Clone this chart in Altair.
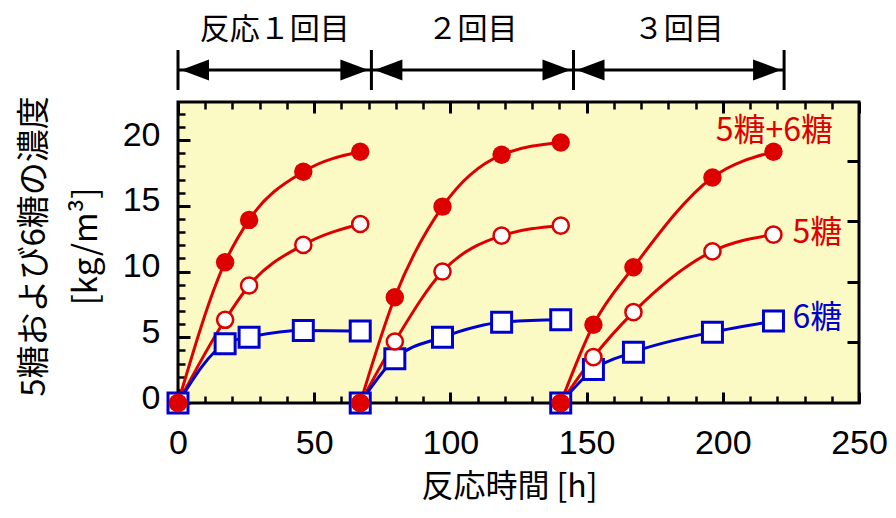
import altair as alt
import pandas as pd

# ---------------- data ----------------
cycle_times = [
    [0.0, 17.3, 26.1, 46.0, 66.9],
    [66.9, 79.6, 97.1, 118.8, 140.5],
    [140.5, 152.5, 167.2, 196.2, 218.6],
]
sugar_total = [
    [0, 10.71, 13.93, 17.59, 19.11],
    [0, 8.05, 14.94, 18.88, 19.82],
    [0, 5.95, 10.33, 17.16, 19.11],
]
sugar_c5 = [
    [0, 6.33, 8.94, 12.03, 13.62],
    [0, 4.68, 10.00, 12.73, 13.49],
    [0, 3.49, 6.91, 11.54, 12.81],
]
sugar_c6 = [
    [0, 4.51, 5.01, 5.52, 5.47],
    [0, 3.37, 5.01, 6.15, 6.33],
    [0, 2.54, 3.87, 5.39, 6.23],
]
series_names = ["5糖+6糖", "5糖", "6糖"]
series_colors = ["#DD0000", "#DD0000", "#0000CC"]
cycle_labels = ["反応１回目", "２回目", "３回目"]
cycle_bounds = [0.0, 71.0, 145.2, 222.5]
x_ticks_major = [0, 50, 100, 150, 200, 250]
x_ticks_minor = list(range(0, 251, 10))
y_ticks_major = [0, 5, 10, 15, 20]
y_ticks_minor = list(range(0, 23))
y_right_ticks = [5, 10, 15, 20]

RED = "#DD0000"
BLUE = "#0000CC"
JP = "Noto Sans CJK JP"
NUM = "Liberation Sans"
X_DOMAIN = [0, 250]
Y_DOMAIN = [0, 22.9]

rows = []
for name, vals in zip(series_names, [sugar_total, sugar_c5, sugar_c6]):
    for ci in range(3):
        for j, (t, c) in enumerate(zip(cycle_times[ci], vals[ci])):
            rows.append({"t": t, "c": c, "series": name, "cycle": ci,
                         "last": (ci == 2 and j == len(vals[ci]) - 1)})
df = pd.DataFrame(rows)

seg = pd.DataFrame({
    "start": cycle_bounds[:-1],
    "end": cycle_bounds[1:],
    "mid": [(a + b) / 2 for a, b in zip(cycle_bounds[:-1], cycle_bounds[1:])],
    "label": cycle_labels,
})
bounds = pd.DataFrame({"b": cycle_bounds})


def X(axis=None):
    return alt.X("t:Q", scale=alt.Scale(domain=X_DOMAIN, nice=False, zero=False), axis=axis)


def Y(axis=None, domain=Y_DOMAIN):
    return alt.Y("c:Q", scale=alt.Scale(domain=domain, nice=False, zero=False), axis=axis)


def tick_axis(orient, values, size, width):
    return alt.Axis(orient=orient, values=values, labels=False, domain=False, grid=False,
                    ticks=True, tickSize=size, tickWidth=width, tickColor="black",
                    offset=-size, title=None)


base = alt.Chart(df)

x_label_axis = alt.Axis(orient="bottom", values=x_ticks_major, ticks=False, tickSize=0,
                        domain=False, grid=False, labelFont=NUM, labelFontSize=34,
                        labelColor="black", labelPadding=23, labelFlush=False,
                        labelOverlap=False,
                        title="反応時間 [h]", titleFont=JP, titleFontSize=32,
                        titleFontWeight="normal", titleColor="black",
                        titleX=331, titleY=68, titleBaseline="top", titleAlign="center")
y_label_axis = alt.Axis(orient="left", values=y_ticks_major, ticks=False, tickSize=0,
                        domain=False, grid=False, labelFont=NUM, labelFontSize=34,
                        labelColor="black", labelPadding=18, labelOffset=-5,
                        labelOverlap=False,
                        title=["5糖および6糖の濃度", "[kg/m³]"], titleFont=JP,
                        titleFontSize=33, titleFontWeight="normal", titleColor="black",
                        titleLineHeight=52, titleX=-127, titleY=144,
                        titleBaseline="bottom", titleAlign="center")

lines = base.mark_line(interpolate="monotone", strokeWidth=3).encode(
    x=X(x_label_axis), y=Y(y_label_axis),
    color=alt.Color("series:N", scale=alt.Scale(domain=series_names, range=series_colors),
                    legend=None),
    detail="cycle:N",
)

ax1 = base.mark_point(opacity=0).encode(
    x=X(tick_axis("bottom", x_ticks_major, 11, 3)), y=Y(tick_axis("left", y_ticks_major, 12, 3)))
ax2 = base.mark_point(opacity=0).encode(
    x=X(tick_axis("bottom", x_ticks_minor, 7, 2.5)), y=Y(tick_axis("left", y_ticks_minor, 7, 2.5)))
ax3 = base.mark_point(opacity=0).encode(
    x=X(tick_axis("top", x_ticks_major, 11, 3)),
    y=Y(tick_axis("right", y_right_ticks, 12, 3), domain=[0, 24.85]))
ax4 = base.mark_point(opacity=0).encode(
    x=X(tick_axis("top", x_ticks_minor, 7, 2.5)), y=Y())

squares = base.transform_filter(alt.datum.series == "6糖").mark_square(
    size=400, fill="white", stroke=BLUE, strokeWidth=3, opacity=1).encode(x=X(), y=Y())
open_c = base.transform_filter(alt.datum.series == "5糖").mark_circle(
    size=260, fill="white", stroke=RED, strokeWidth=2.5, opacity=1).encode(x=X(), y=Y())
filled_c = base.transform_filter(alt.datum.series == "5糖+6糖").mark_circle(
    size=340, color=RED, opacity=1).encode(x=X(), y=Y())

label_specs = [("5糖+6糖", RED, "center", 1, -21), ("5糖", RED, "left", 19, -2),
               ("6糖", BLUE, "left", 19, -3)]
series_labels = []
for name, col, align, dx, dy in label_specs:
    series_labels.append(
        base.transform_filter((alt.datum.series == name) & alt.datum.last)
        .mark_text(font=JP, fontSize=32, color=col, align=align, baseline="middle", dx=dx, dy=dy)
        .encode(x=X(), y=Y(), text="series:N")
    )

bars = alt.Chart(bounds).mark_rule(strokeWidth=3, color="black").encode(
    x=alt.X("b:Q", scale=alt.Scale(domain=X_DOMAIN, nice=False, zero=False), axis=None),
    y=alt.value(-52), y2=alt.value(-12))
shafts = alt.Chart(seg).mark_rule(strokeWidth=3, color="black").encode(
    x=alt.X("start:Q", scale=alt.Scale(domain=X_DOMAIN, nice=False, zero=False), axis=None),
    x2="end:Q", y=alt.value(-32))
head_l = alt.Chart(seg).mark_point(shape="M1,-0.75L-1,0L1,0.75Z", size=784, filled=True,
                                   color="black", opacity=1, xOffset=17).encode(
    x=alt.X("start:Q", scale=alt.Scale(domain=X_DOMAIN, nice=False, zero=False), axis=None),
    y=alt.value(-32))
head_r = alt.Chart(seg).mark_point(shape="M-1,-0.75L1,0L-1,0.75Z", size=784, filled=True,
                                   color="black", opacity=1, xOffset=-17).encode(
    x=alt.X("end:Q", scale=alt.Scale(domain=X_DOMAIN, nice=False, zero=False), axis=None),
    y=alt.value(-32))
seg_text = alt.Chart(seg).mark_text(font="Liberation Sans, Noto Sans CJK JP", fontSize=30,
                                    color="black", align="center",
                                    baseline="middle").encode(
    x=alt.X("mid:Q", scale=alt.Scale(domain=X_DOMAIN, nice=False, zero=False), axis=None),
    y=alt.value(-72), text="label:N")

chart = alt.layer(
    lines, ax1, ax2, ax3, ax4, squares, open_c, filled_c, *series_labels,
    bars, shafts, head_l, head_r, seg_text,
).resolve_scale(y="independent").resolve_axis(x="independent", y="independent").properties(
    width=681, height=301,
    padding={"left": 170, "top": 94, "right": 29, "bottom": 106},
    autosize=alt.AutoSizeParams(type="none"),
    background="white",
).configure_view(fill="#FCFAC4", stroke="black", strokeWidth=3)

chart.save("out.html", embed_options={"renderer": "svg", "actions": False})
